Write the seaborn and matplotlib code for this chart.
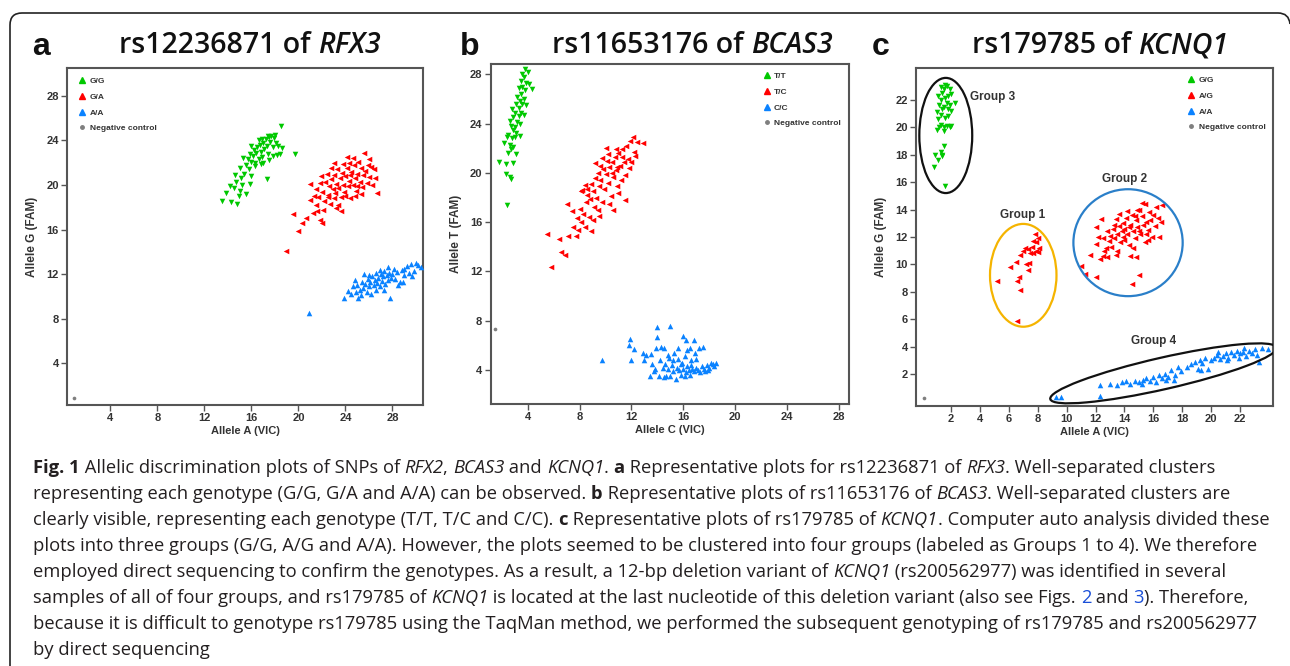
import matplotlib
matplotlib.use("Agg")
import matplotlib.pyplot as plt
from matplotlib import font_manager
from matplotlib.lines import Line2D
from matplotlib.patches import Ellipse, PathPatch
from matplotlib.path import Path
from matplotlib.transforms import IdentityTransform
import pandas as pd
import seaborn as sns

sns.set_theme(style="ticks")
plt.rcParams["font.family"] = ["Liberation Sans", "DejaVu Sans"]

W, H = 1290, 666
GREEN = "#00c800"
RED = "#ff0000"
BLUE = "#0a82ff"
GRAY = "#7f7f7f"
AXCOL = "#555555"
TXT = "#222222"

# ---- panel a: rs12236871 of RFX3 ----
a_gg = [(13.5, 18.6), (13.8, 19.3), (14.3, 18.5), (14.8, 18.3), (14.5, 19.7), (14.9, 19.0), (15.0, 19.5),
        (14.7, 20.3), (14.6, 20.9), (15.1, 20.6), (15.2, 20.0), (15.4, 21.0), (15.0, 21.5), (15.5, 21.8),
        (15.7, 22.3), (15.8, 21.4), (15.9, 22.8), (16.0, 22.1), (16.1, 22.6), (16.2, 23.1), (16.3, 21.7),
        (16.4, 22.9), (16.5, 23.4), (16.6, 22.3), (16.7, 23.6), (16.8, 23.0), (16.9, 22.5), (17.0, 23.8),
        (17.1, 23.2), (17.2, 24.1), (17.3, 23.5), (17.4, 22.8), (17.5, 24.3), (17.6, 23.9), (17.7, 24.4),
        (17.8, 23.4), (17.9, 24.2), (18.0, 24.5), (18.1, 23.8), (18.2, 22.7), (18.3, 23.5), (18.4, 22.8),
        (18.5, 25.3), (18.6, 23.3), (19.7, 22.8), (17.3, 20.5), (16.0, 20.8), (16.8, 21.9), (17.5, 22.2),
        (15.5, 19.2), (16.3, 22.0), (16.9, 24.1), (17.4, 24.4), (15.3, 22.4), (16.0, 23.5), (17.0, 22.0),
        (14.2, 19.9), (15.9, 20.1), (17.8, 22.6), (16.6, 24.0)]
a_ga = [(18.9, 14.1), (19.5, 17.4), (20.0, 15.9), (20.3, 16.6), (20.6, 17.0), (21.0, 18.7), (21.2, 17.5),
        (21.5, 18.2), (21.8, 16.9), (22.0, 16.6), (21.3, 19.0), (21.5, 19.6), (21.8, 20.2), (21.7, 18.9),
        (22.0, 19.4), (22.2, 18.6), (22.3, 20.3), (22.5, 19.1), (22.6, 19.9), (22.7, 18.3), (22.8, 20.5),
        (22.9, 19.6), (23.0, 18.8), (23.0, 20.9), (23.1, 19.3), (23.2, 20.1), (23.3, 21.4), (23.4, 19.7),
        (23.5, 20.6), (23.6, 17.7), (23.6, 18.9), (23.7, 21.1), (23.8, 20.0), (23.9, 19.4), (24.0, 20.8),
        (24.1, 22.5), (24.1, 21.5), (24.2, 19.9), (24.3, 20.4), (24.4, 18.8), (24.5, 21.2), (24.6, 20.0),
        (24.7, 21.8), (24.8, 20.6), (24.9, 19.5), (25.0, 21.0), (25.1, 22.1), (25.2, 20.3), (25.3, 21.5),
        (25.4, 19.8), (25.5, 20.9), (25.6, 22.9), (25.7, 21.3), (25.8, 20.2), (25.9, 21.8), (26.0, 20.7),
        (26.2, 21.6), (26.4, 21.4), (26.5, 20.6), (26.7, 19.3), (22.4, 21.0), (22.1, 17.8), (23.0, 22.0),
        (24.3, 22.0), (24.8, 19.0), (25.3, 19.2), (26.0, 22.3), (23.8, 21.9), (22.8, 21.5), (21.9, 20.8),
        (23.4, 18.2), (24.6, 22.4), (25.0, 19.9), (24.0, 19.0), (22.5, 18.9), (23.2, 17.9), (26.3, 20.0),
        (21.0, 20.1), (21.6, 17.7), (24.4, 20.9)]
a_aa = [(20.9, 8.5), (23.9, 9.9), (24.2, 10.5), (24.5, 10.2), (24.6, 10.9), (24.9, 10.4), (25.0, 11.0),
        (25.2, 10.6), (25.3, 10.1), (25.4, 11.3), (25.5, 10.8), (25.7, 11.1), (25.8, 10.4), (25.9, 11.6),
        (26.0, 10.9), (26.1, 11.3), (26.2, 10.2), (26.3, 11.8), (26.4, 11.0), (26.5, 11.5), (26.6, 12.1),
        (26.7, 11.2), (26.8, 11.7), (26.9, 10.9), (27.0, 12.0), (27.1, 11.4), (27.2, 11.8), (27.3, 12.3),
        (27.4, 11.1), (27.5, 11.9), (27.6, 11.5), (27.7, 12.1), (27.8, 9.9), (27.9, 11.7), (28.0, 12.0),
        (28.2, 11.6), (28.4, 12.2), (28.6, 11.3), (28.8, 12.4), (29.0, 11.9), (29.2, 12.7), (29.4, 12.1),
        (29.6, 12.9), (29.8, 12.3), (30.0, 13.0), (30.2, 12.8), (30.4, 12.6), (29.0, 12.5), (28.5, 11.0),
        (26.0, 11.9), (25.6, 12.0), (26.9, 12.4), (27.3, 10.6), (28.1, 12.5), (24.8, 11.5), (25.1, 9.9),
        (26.6, 10.6), (27.6, 12.6), (28.9, 11.3), (29.7, 11.8)]
a_neg = (0.9, 0.85)

# ---- panel b: rs11653176 of BCAS3 ----
b_tt = [(2.4, 17.4), (1.8, 20.9), (2.3, 20.7), (2.3, 19.9), (2.6, 19.7), (2.7, 19.5), (2.5, 21.6),
        (2.2, 22.4), (2.6, 22.3), (2.7, 21.9), (2.9, 22.1), (2.8, 22.8), (3.0, 22.9), (2.5, 23.1),
        (2.9, 23.5), (3.1, 23.2), (2.7, 23.8), (3.2, 24.1), (2.9, 24.5), (3.4, 24.0), (3.0, 24.9),
        (3.3, 25.3), (2.8, 25.2), (3.5, 24.9), (3.1, 25.6), (3.4, 25.8), (3.6, 25.6), (3.2, 26.2),
        (3.5, 26.4), (3.7, 26.0), (3.3, 26.9), (3.6, 27.0), (3.8, 26.7), (3.9, 27.3), (3.5, 27.5),
        (3.7, 27.8), (4.0, 28.2), (3.8, 28.4), (4.1, 27.2), (4.3, 26.8), (3.0, 23.7), (2.6, 24.2),
        (3.4, 23.0), (3.1, 21.5), (2.9, 20.8), (3.7, 24.7), (3.9, 25.5), (2.4, 22.9), (3.3, 24.6),
        (3.6, 28.0)]
b_tc = [(5.5, 15.0), (5.8, 12.4), (6.4, 14.6), (6.6, 13.6), (6.9, 13.3), (7.1, 14.9), (7.7, 14.9),
        (7.0, 17.5), (7.4, 16.9), (7.5, 15.6), (7.8, 16.3), (7.9, 15.4), (8.0, 17.1), (8.1, 16.0),
        (8.2, 18.6), (8.3, 16.7), (8.4, 15.6), (8.5, 17.6), (8.6, 18.2), (8.7, 16.4), (8.8, 17.9),
        (8.9, 15.3), (8.9, 19.1), (9.0, 18.5), (9.1, 17.2), (9.2, 19.6), (9.3, 18.0), (9.4, 20.0),
        (9.5, 18.9), (9.5, 16.5), (9.6, 19.4), (9.7, 17.6), (9.8, 20.3), (9.9, 18.7), (10.0, 19.9),
        (10.1, 21.0), (10.2, 19.2), (10.3, 20.5), (10.4, 18.1), (10.5, 20.9), (10.6, 17.0), (10.6, 19.7),
        (10.7, 21.3), (10.8, 20.2), (10.9, 18.9), (11.0, 21.6), (11.1, 20.6), (11.2, 19.4), (11.3, 21.9),
        (11.4, 20.9), (11.5, 19.8), (11.6, 22.2), (11.7, 21.1), (11.8, 20.4), (11.9, 22.6), (12.1, 22.9),
        (12.2, 21.7), (12.3, 21.4), (12.4, 22.5), (12.9, 22.4), (11.5, 17.8), (9.2, 20.8), (8.4, 19.0),
        (10.0, 22.0), (10.8, 21.9), (9.7, 21.2), (8.6, 18.7), (10.3, 17.5), (9.0, 16.2), (11.0, 18.4),
        (12.0, 20.9), (10.5, 20.0), (9.6, 20.6), (10.9, 20.5), (11.3, 21.3), (8.1, 18.5), (9.4, 17.0),
        (10.2, 21.5)]
b_cc = [(9.7, 4.8), (11.9, 6.5), (11.8, 6.0), (12.2, 5.7), (12.0, 4.8), (12.9, 5.4), (13.1, 5.2),
        (13.0, 4.8), (13.5, 5.3), (13.4, 3.5), (13.6, 4.5), (13.8, 4.1), (13.9, 5.8), (14.0, 7.5),
        (14.0, 6.7), (14.1, 3.5), (14.2, 4.8), (14.3, 5.9), (14.4, 4.2), (14.5, 3.4), (14.5, 5.8),
        (14.6, 4.5), (14.7, 3.5), (14.8, 4.1), (14.9, 5.0), (15.0, 7.6), (15.0, 3.5), (15.1, 4.4),
        (15.2, 3.9), (15.3, 5.4), (15.4, 3.3), (15.5, 4.2), (15.6, 4.9), (15.7, 4.0), (15.8, 3.6),
        (15.9, 4.6), (16.0, 6.8), (16.0, 4.1), (16.1, 5.1), (16.2, 6.4), (16.2, 3.8), (16.3, 4.3),
        (16.4, 4.0), (16.5, 5.8), (16.5, 3.6), (16.6, 4.4), (16.7, 4.1), (16.8, 6.4), (16.8, 3.9),
        (16.9, 5.4), (17.0, 4.2), (17.1, 4.0), (17.2, 5.8), (17.3, 3.8), (17.4, 4.3), (17.5, 5.9),
        (17.6, 4.1), (17.7, 3.9), (17.8, 4.4), (18.0, 4.2), (18.1, 4.6), (18.3, 4.5), (18.4, 4.3),
        (18.5, 4.6), (16.3, 5.6), (15.6, 5.8), (14.8, 5.2), (17.0, 4.9), (16.1, 3.5), (15.2, 4.8),
        (17.9, 4.0), (16.6, 4.8), (13.7, 3.9), (15.8, 4.5)]
b_neg = (1.5, 7.3)

# ---- panel c: rs179785 of KCNQ1 ----
c_gg = [(1.6, 15.7), (0.8, 17.1), (1.1, 17.6), (0.9, 18.0), (1.3, 18.2), (1.4, 18.0), (1.5, 18.6),
        (1.4, 17.9), (1.0, 19.8), (1.2, 20.0), (1.3, 20.2), (1.5, 20.0), (1.7, 20.1), (1.9, 20.0),
        (2.0, 20.1), (1.1, 20.6), (1.3, 20.9), (1.6, 20.7), (1.8, 20.8), (1.0, 21.1), (1.4, 21.3),
        (1.2, 21.6), (1.5, 21.5), (1.7, 21.8), (1.9, 21.6), (2.3, 21.8), (1.3, 22.0), (1.6, 22.1),
        (1.8, 22.3), (1.4, 22.5), (2.0, 22.4), (1.5, 22.8), (1.7, 23.0), (1.3, 22.9), (1.9, 22.8),
        (1.6, 23.1), (2.0, 21.2), (1.1, 22.3), (1.8, 21.3), (1.5, 19.7)]
c_ag = [(6.6, 5.9), (5.2, 8.8), (6.6, 8.8), (6.7, 9.1), (6.8, 8.1), (6.1, 9.8), (6.5, 10.2), (6.8, 10.7),
        (7.0, 11.0), (7.2, 10.0), (7.3, 9.6), (7.1, 11.2), (7.4, 10.1), (7.5, 10.8), (7.6, 11.3),
        (7.7, 11.7), (7.8, 12.2), (7.9, 11.0), (8.0, 11.9), (8.0, 10.9), (7.7, 10.8), (7.9, 11.6),
        (7.3, 11.1), (8.1, 11.2),
        (11.0, 9.9), (11.3, 9.3), (11.6, 10.7), (12.0, 9.1), (12.3, 10.4), (12.5, 10.6), (12.0, 11.5),
        (12.2, 12.0), (12.0, 12.7), (12.4, 13.3), (12.5, 11.9), (12.7, 11.2), (12.8, 12.4), (12.9, 11.7),
        (13.0, 12.1), (13.1, 11.3), (13.2, 12.6), (13.3, 11.9), (13.4, 13.3), (13.5, 12.2), (13.5, 11.0),
        (13.6, 12.8), (13.7, 11.6), (13.8, 12.4), (13.9, 13.0), (14.0, 11.8), (14.0, 12.6), (14.1, 13.4),
        (14.2, 12.2), (14.3, 11.4), (14.4, 12.9), (14.4, 10.6), (14.5, 13.6), (14.5, 8.6), (14.6, 12.4),
        (14.7, 11.9), (14.8, 13.2), (14.8, 10.5), (14.9, 12.7), (15.0, 14.0), (15.0, 9.2), (15.1, 12.2),
        (15.2, 13.5), (15.3, 12.9), (15.4, 14.4), (15.4, 11.6), (15.5, 13.1), (15.6, 12.5), (15.7, 13.8),
        (15.8, 13.2), (15.9, 12.0), (16.0, 13.6), (16.1, 12.8), (16.2, 14.2), (16.3, 13.4), (16.6, 14.3),
        (16.4, 12.0), (15.2, 14.5), (14.9, 14.0), (13.6, 13.7), (12.8, 10.5), (13.4, 10.7), (14.2, 13.9),
        (15.6, 11.8), (14.6, 11.2), (13.9, 12.0), (15.0, 12.4), (14.3, 12.7), (15.5, 12.2), (14.7, 13.5),
        (16.5, 13.1), (13.3, 12.9), (12.6, 11.0)]
c_aa = [(9.3, 0.3), (9.6, 0.3), (12.3, 0.4), (12.3, 1.2), (13.0, 1.3), (13.5, 1.2), (13.8, 1.4),
        (14.1, 1.5), (14.4, 1.3), (14.7, 1.5), (15.0, 1.4), (15.3, 1.6), (15.5, 1.7), (15.8, 1.5),
        (16.0, 1.8), (16.2, 1.4), (16.4, 1.9), (16.6, 1.7), (16.8, 2.0), (17.0, 1.8), (17.2, 2.3),
        (17.5, 1.9), (17.7, 2.5), (17.9, 2.2), (18.3, 2.5), (18.6, 2.7), (18.9, 2.9), (19.1, 2.4),
        (19.2, 3.0), (19.4, 2.8), (19.6, 3.2), (19.8, 2.4), (20.0, 3.0), (20.2, 3.2), (20.4, 3.4),
        (20.6, 3.1), (20.8, 3.3), (21.0, 3.5), (21.2, 3.2), (21.4, 3.6), (21.6, 3.4), (21.8, 3.7),
        (22.0, 3.5), (22.2, 3.6), (22.4, 3.3), (22.6, 3.7), (22.8, 3.5), (23.0, 3.8), (23.2, 3.4),
        (23.3, 2.9), (23.5, 3.9), (23.9, 3.8), (20.5, 3.6), (21.1, 3.0), (21.9, 3.2), (22.3, 3.9),
        (19.3, 2.3), (17.4, 1.6), (15.2, 1.3), (16.9, 1.6)]
c_neg = (0.1, 0.22)

# group circles of panel c: label, label position, ellipse centre, width, height, angle, colour
c_groups = [
    ("Group 3", (3.3, 22.2), (1.64, 19.4), 3.66, 8.4, 0, "#111111"),
    ("Group 1", (6.96, 13.6), (7.0, 9.2), 4.6, 7.5, 0, "#f5b400"),
    ("Group 2", (14.0, 16.2), (14.25, 11.58), 7.56, 7.8, 0, "#2a7fc9"),
    ("Group 4", (16.0, 4.4), (16.7, 2.05), 16.1, 2.3, 13.5, "#111111"),
]

caption = [
    [("Fig. 1", "b"), (" Allelic discrimination plots of SNPs of ", "n"), ("RFX2", "i"), (", ", "n"),
     ("BCAS3", "i"), (" and ", "n"), ("KCNQ1", "i"), (". ", "n"), ("a", "b"),
     (" Representative plots for rs12236871 of ", "n"), ("RFX3", "i"), (". Well-separated clusters", "n")],
    [("representing each genotype (G/G, G/A and A/A) can be observed. ", "n"), ("b", "b"),
     (" Representative plots of rs11653176 of ", "n"), ("BCAS3", "i"), (". Well-separated clusters are", "n")],
    [("clearly visible, representing each genotype (T/T, T/C and C/C). ", "n"), ("c", "b"),
     (" Representative plots of rs179785 of ", "n"), ("KCNQ1", "i"), (". Computer auto analysis divided these", "n")],
    [("plots into three groups (G/G, A/G and A/A). However, the plots seemed to be clustered into four groups "
      "(labeled as Groups 1 to 4). We therefore", "n")],
    [("employed direct sequencing to confirm the genotypes. As a result, a 12-bp deletion variant of ", "n"),
     ("KCNQ1", "i"), (" (rs200562977) was identified in several", "n")],
    [("samples of all of four groups, and rs179785 of ", "n"), ("KCNQ1", "i"),
     (" is located at the last nucleotide of this deletion variant (also see Figs. ", "n"), ("2", "l"),
     (" and ", "n"), ("3", "l"), ("). Therefore,", "n")],
    [("because it is difficult to genotype rs179785 using the TaqMan method, we performed the subsequent "
      "genotyping of rs179785 and rs200562977", "n")],
    [("by direct sequencing", "n")],
]


def pick_family(candidates):
    for fam in candidates:
        try:
            path = font_manager.findfont(font_manager.FontProperties(family=fam, style="italic"),
                                         fallback_to_default=False)
        except ValueError:
            continue
        if "italic" in path.lower() or "oblique" in path.lower():
            return fam
    return "DejaVu Sans"


TEXT_FAMILY = pick_family(["Open Sans", "Noto Sans", "Lato", "Liberation Sans"])


def advance(fig, renderer, s, **kw):
    t = fig.text(0, 0, s + "|", **kw)
    w1 = t.get_window_extent(renderer).width
    t.set_text("|")
    w2 = t.get_window_extent(renderer).width
    t.remove()
    return w1 - w2


def draw_runs(fig, renderer, x, y, runs, styles, center=False):
    if center:
        total = sum(advance(fig, renderer, s, **styles[k]) for s, k in runs)
        x -= total / 2
    for s, k in runs:
        fig.text(x / W, 1 - y / H, s, va="baseline", ha="left", **styles[k])
        x += advance(fig, renderer, s, **styles[k])


def draw_panel(ax, clusters, neg, labels, anchor, lim_x, lim_y, ticks_x, ticks_y, xlabel, ylabel):
    for pts, color, marker in clusters:
        df = pd.DataFrame(pts, columns=["x", "y"])
        sns.scatterplot(data=df, x="x", y="y", color=color, marker=marker, s=16, linewidth=0,
                        ax=ax, legend=False, zorder=3)
    sns.scatterplot(x=[neg[0]], y=[neg[1]], color=GRAY, marker="o", s=7, linewidth=0, ax=ax,
                    legend=False, zorder=3)
    ax.set_xlim(*lim_x)
    ax.set_ylim(*lim_y)
    ax.set_xticks(ticks_x)
    ax.set_yticks(ticks_y)
    ax.tick_params(direction="out", length=4, width=1, color=AXCOL, labelsize=8, labelcolor="#333333", pad=2)
    for lbl in ax.get_xticklabels() + ax.get_yticklabels():
        lbl.set_fontweight("bold")
    for sp in ax.spines.values():
        sp.set_visible(True)
        sp.set_color(AXCOL)
        sp.set_linewidth(1.5)
    ax.set_xlabel(xlabel, fontsize=8, fontweight="bold", color="#333333", labelpad=2)
    ax.set_ylabel(ylabel, fontsize=8.5, fontweight="bold", color="#333333", labelpad=6)
    handles = [Line2D([], [], ls="", marker="^", color=c, markersize=4) for c in (GREEN, RED, BLUE)]
    handles.append(Line2D([], [], ls="", marker="o", color=GRAY, markersize=2.5))
    leg = ax.legend(handles, labels, loc="upper left", bbox_to_anchor=anchor, frameon=False, borderpad=0,
                    handlelength=0.8, handletextpad=0.5, labelspacing=0.95,
                    prop={"size": 6, "weight": "bold"})
    for t in leg.get_texts():
        t.set_color("#333333")


fig = plt.figure(figsize=(W / 100, H / 100), dpi=100)
fig.patch.set_facecolor("white")

ax_a = fig.add_axes([67 / W, 1 - 405 / H, 356 / W, 337 / H])
ax_b = fig.add_axes([490.7 / W, 1 - 404 / H, 358.3 / W, 340 / H])
ax_c = fig.add_axes([916 / W, 1 - 405.7 / H, 357.3 / W, 337.4 / H])

draw_panel(ax_a, [(a_gg, GREEN, "v"), (a_ga, RED, "<"), (a_aa, BLUE, "^")], a_neg,
           ["G/G", "G/A", "A/A", "Negative control"], (0.022, 0.985),
           (0.3, 30.6), (0.26, 30.5), range(4, 29, 4), range(4, 29, 4), "Allele A (VIC)", "Allele G (FAM)")
draw_panel(ax_b, [(b_tt, GREEN, "v"), (b_tc, RED, "<"), (b_cc, BLUE, "^")], b_neg,
           ["T/T", "T/C", "C/C", "Negative control"], (0.749, 0.988),
           (1.15, 28.77), (1.24, 28.84), range(4, 29, 4), range(4, 29, 4), "Allele C (VIC)", "Allele T (FAM)")
draw_panel(ax_c, [(c_gg, GREEN, "v"), (c_ag, RED, "<"), (c_aa, BLUE, "^")], c_neg,
           ["G/G", "A/G", "A/A", "Negative control"], (0.749, 0.989),
           (-0.42, 24.3), (-0.31, 24.3), range(2, 23, 2), range(2, 23, 2), "Allele A (VIC)", "Allele G (FAM)")

for label, lpos, center, ew, eh, ang, col in c_groups:
    ax_c.add_patch(Ellipse(center, ew, eh, angle=ang, fill=False, ec=col, lw=1.6, zorder=4))
    ha = "left" if label == "Group 3" else "center"
    ax_c.text(lpos[0], lpos[1], label, ha=ha, va="center", fontsize=8.5, fontweight="bold", color="#333333")

# outer frame: left side, top side and the two rounded top corners (pixel coordinates)
frame = Path([(10, -2), (10, 641), (10, 653), (22, 653), (1278, 653), (1289, 653), (1290, 642)],
             [Path.MOVETO, Path.LINETO, Path.CURVE3, Path.CURVE3, Path.LINETO, Path.CURVE3, Path.CURVE3])
fig.add_artist(PathPatch(frame, transform=IdentityTransform(), fill=False, ec="#222222", lw=1.2))

renderer = fig.canvas.get_renderer()

# panel letters and titles
for letter, lx in (("a", 32), ("b", 460), ("c", 872)):
    fig.text(lx / W, 1 - 55 / H, letter, fontsize=23, fontweight="bold", color="#111111",
             family=["Liberation Sans", "DejaVu Sans"], va="baseline")

title_styles = {
    "n": dict(family=TEXT_FAMILY, size=20.5, weight="semibold", color="#111111"),
    "i": dict(family=TEXT_FAMILY, size=20.5, weight="semibold", style="italic", color="#111111"),
}
for tx, pre, gene in ((250, "rs12236871 of ", "RFX3"), (692, "rs11653176 of ", "BCAS3"),
                      (1100, "rs179785 of ", "KCNQ1")):
    draw_runs(fig, renderer, tx, 53, [(pre, "n"), (gene, "i")], title_styles, center=True)

# caption, size fitted so that the longest line spans the same width as in the figure
base = dict(family=TEXT_FAMILY, size=12, color="#231f20")
scale = 1225 / advance(fig, renderer, caption[6][0][0], **base)
size = 12 * scale
cap_styles = {
    "n": dict(family=TEXT_FAMILY, size=size, color="#231f20"),
    "b": dict(family=TEXT_FAMILY, size=size, color="#231f20", weight="bold"),
    "i": dict(family=TEXT_FAMILY, size=size, color="#231f20", style="italic"),
    "l": dict(family=TEXT_FAMILY, size=size, color="#1a4fd8"),
}
for i, runs in enumerate(caption):
    draw_runs(fig, renderer, 33, 473 + 26 * i, runs, cap_styles)

fig.savefig("out.png", dpi=100)
plt.close(fig)
